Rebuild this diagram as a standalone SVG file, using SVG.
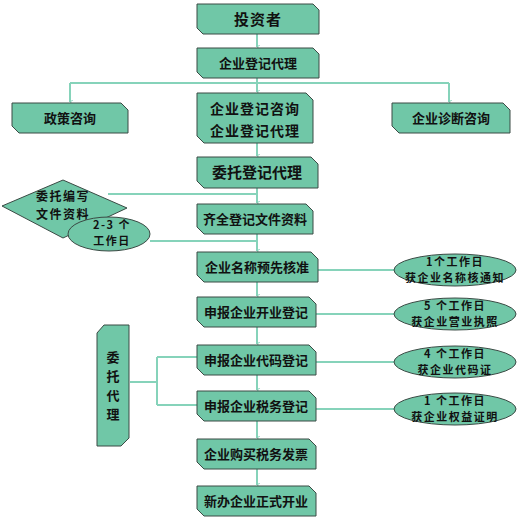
<svg xmlns="http://www.w3.org/2000/svg" width="526" height="523" viewBox="0 0 526 523">
<defs>
<style>
.b{fill:#70c7a7;stroke:#3a4a44;stroke-width:1}
.t{font-family:"Noto Sans CJK SC","Noto Sans",sans-serif;font-weight:bold;fill:#111;text-anchor:middle}
.e{font-size:11px;letter-spacing:1.5px}
.c{fill:none;stroke:#86d3ba;stroke-width:2}
</style>
<marker id="a" viewBox="0 0 10 10" refX="5" refY="9" markerWidth="5" markerHeight="5" orient="auto-start-reverse" markerUnits="userSpaceOnUse">
<path d="M0,2 L5,9 L10,2" fill="none" stroke="#86d3ba" stroke-width="2"/>
</marker>
</defs>
<rect width="526" height="523" fill="#fff"/>
<g id="connectors">
<path class="c" d="M257,34 V47" marker-end="url(#a)"/>
<path class="c" d="M257,78 V92" marker-end="url(#a)"/>
<path class="c" d="M70,83 H449"/>
<path class="c" d="M70,83 V102" marker-end="url(#a)"/>
<path class="c" d="M449,83 V102" marker-end="url(#a)"/>
<path class="c" d="M257,143 V156" marker-end="url(#a)"/>
<path class="c" d="M257,188 V203" marker-end="url(#a)"/>
<path class="c" d="M108,194 H257"/>
<path class="c" d="M150,241 H257"/>
<path class="c" d="M257,234 V251" marker-end="url(#a)"/>
<path class="c" d="M257,282 V296" marker-end="url(#a)"/>
<path class="c" d="M257,327 V344" marker-end="url(#a)"/>
<path class="c" d="M257,375 V390" marker-end="url(#a)"/>
<path class="c" d="M257,421 V438" marker-end="url(#a)"/>
<path class="c" d="M257,469 V485" marker-end="url(#a)"/>
<path class="c" d="M318,270 H395"/>
<path class="c" d="M316,314 H395"/>
<path class="c" d="M316,362 H395"/>
<path class="c" d="M316,409 H395"/>
<path class="c" d="M130,382 H157 M157,357 V405 M157,357 H197 M157,405 H197"/>
</g>
<g id="n1"><path class="b" d="M197,4 H313 L319,10 V34 H203 L197,28 Z"/><text class="t" x="258" y="25" font-size="15" letter-spacing="1">投资者</text></g>
<g id="n2"><path class="b" d="M197,48 H313 L319,54 V78 H203 L197,72 Z"/><text class="t" x="258" y="68" font-size="13">企业登记代理</text></g>
<g id="n3"><path class="b" d="M12,103 H121 L128,110 V133 H19 L12,126 Z"/><text class="t" x="70" y="123" font-size="13">政策咨询</text></g>
<g id="n4"><path class="b" d="M197,93 H306 L313,100 V143 H204 L197,136 Z"/><text class="t" x="255" y="114" font-size="14" letter-spacing="1">企业登记咨询</text><text class="t" x="255" y="136" font-size="14" letter-spacing="1">企业登记代理</text></g>
<g id="n5"><path class="b" d="M392,103 H503 L510,110 V133 H399 L392,126 Z"/><text class="t" x="451" y="123" font-size="13">企业诊断咨询</text></g>
<g id="n6"><path class="b" d="M197,157 H311 L318,164 V188 H204 L197,181 Z"/><text class="t" x="257" y="178" font-size="15">委托登记代理</text></g>
<g id="n7"><path class="b" d="M197,204 H306 L313,211 V234 H204 L197,227 Z"/><text class="t" x="255" y="224" font-size="13">齐全登记文件资料</text></g>
<g id="n8"><path class="b" d="M197,252 H311 L318,259 V282 H204 L197,275 Z"/><text class="t" x="257" y="272" font-size="13">企业名称预先核准</text></g>
<g id="n9"><path class="b" d="M197,297 H309 L316,304 V327 H204 L197,320 Z"/><text class="t" x="256" y="317" font-size="13">申报企业开业登记</text></g>
<g id="n10"><path class="b" d="M197,345 H309 L316,352 V375 H204 L197,368 Z"/><text class="t" x="256" y="365" font-size="13">申报企业代码登记</text></g>
<g id="n11"><path class="b" d="M197,391 H309 L316,398 V421 H204 L197,414 Z"/><text class="t" x="256" y="411" font-size="13">申报企业税务登记</text></g>
<g id="n12"><path class="b" d="M197,439 H309 L316,446 V469 H204 L197,462 Z"/><text class="t" x="256" y="459" font-size="13">企业购买税务发票</text></g>
<g id="n13"><path class="b" d="M197,486 H309 L316,493 V516 H204 L197,509 Z"/><text class="t" x="256" y="506" font-size="13">新办企业正式开业</text></g>
<g id="n14"><path class="b" d="M104,325 H129 V438 L121,446 H97 V333 Z"/><text class="t" font-size="13"><tspan x="113" y="362">委</tspan><tspan x="113" y="381">托</tspan><tspan x="113" y="400">代</tspan><tspan x="113" y="419">理</tspan></text></g>
<g id="n15"><path class="b" d="M2,206 L63,180 L127,208 L63,238 Z"/><text class="t" x="63" y="201" font-size="12" letter-spacing="1.5">委托编写</text><text class="t" x="63" y="219" font-size="12" letter-spacing="1.5">文件资料</text></g>
<g id="n16"><ellipse class="b" cx="109" cy="234" rx="41" ry="17"/><text class="t e" x="112" y="229">2-3 个</text><text class="t e" x="112" y="245">工作日</text></g>
<g id="n17"><ellipse class="b" cx="455" cy="270" rx="61" ry="16"/><text class="t e" x="455" y="266">1个工作日</text><text class="t e" x="455" y="282">获企业名称核通知</text></g>
<g id="n18"><ellipse class="b" cx="455" cy="314" rx="61" ry="16"/><text class="t e" x="455" y="310">5 个工作日</text><text class="t e" x="455" y="326">获企业营业执照</text></g>
<g id="n19"><ellipse class="b" cx="455" cy="362" rx="61" ry="16"/><text class="t e" x="455" y="358">4 个工作日</text><text class="t e" x="455" y="374">获企业代码证</text></g>
<g id="n20"><ellipse class="b" cx="455" cy="409" rx="61" ry="16"/><text class="t e" x="455" y="405">1 个工作日</text><text class="t e" x="455" y="421">获企业权益证明</text></g>
</svg>
